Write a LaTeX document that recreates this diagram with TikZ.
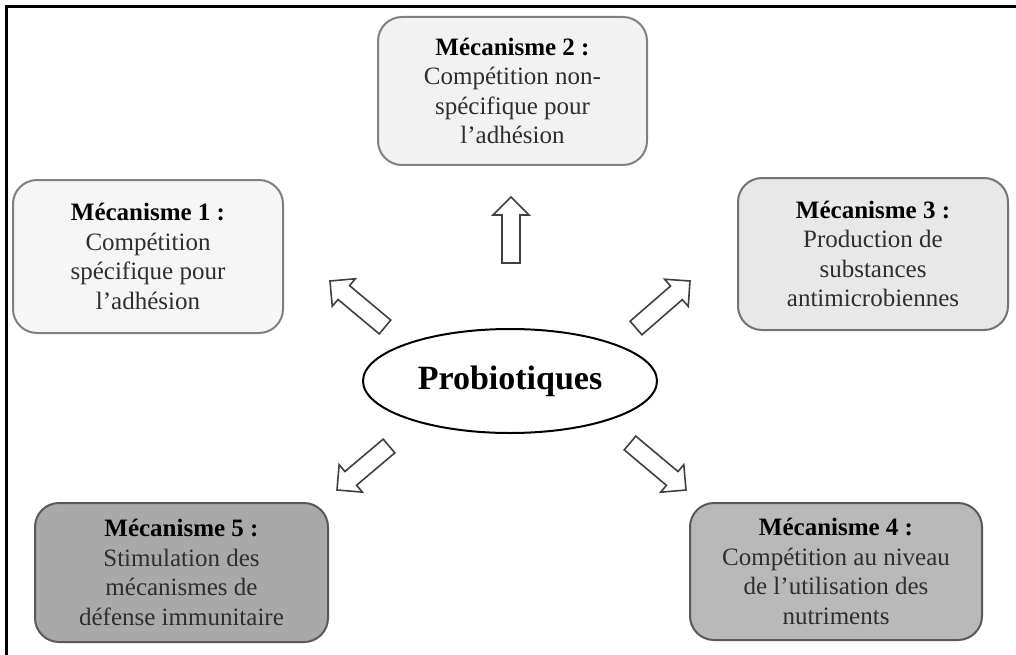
\documentclass[tikz,border=0pt]{standalone}
\usepackage{fontspec}
\setmainfont{Liberation Serif}
\usetikzlibrary{calc,shapes.geometric}

% Outlined block arrow from a tail coordinate to a tip coordinate
\newcommand{\blockarrow}[2]{%
  \path ($(#2)!18pt!(#1)$) coordinate (#2-base);
  \draw[arrowbody]
    ($(#1)!9pt!90:(#2)$) -- ($(#2-base)!9pt!90:(#2)$) --
    ($(#2-base)!18pt!90:(#2)$) -- (#2) --
    ($(#2-base)!18pt!-90:(#2)$) -- ($(#2-base)!9pt!-90:(#2)$) --
    ($(#1)!9pt!-90:(#2)$) -- cycle;
}

\definecolor{boxA}{HTML}{F6F6F6}
\definecolor{boxB}{HTML}{F2F2F2}
\definecolor{boxC}{HTML}{E8E8E8}
\definecolor{boxD}{HTML}{B9B9B9}
\definecolor{boxE}{HTML}{A9A9A9}
\definecolor{bodytext}{HTML}{2E2E2E}

\begin{document}
\begin{tikzpicture}[x=1pt,y=-1pt,
  mech/.style={draw=#1, line width=2pt, rounded corners=24pt, align=center,
    inner sep=0pt, font=\fontsize{25}{29.5}\selectfont, text=bodytext},
  hub/.style={draw=black, line width=2pt, ellipse, fill=white, inner sep=0pt,
    font=\fontsize{34}{38}\selectfont\bfseries},
  arrowbody/.style={draw=black!75, line width=1.6pt, fill=white, line join=miter},
  frame/.style={line width=3pt, draw=black}]

\useasboundingbox (0,0) rectangle (1016,655);

% outer frame (top and left sides)
\coordinate (fr-tl) at (6.5,6.5);
\coordinate (fr-tr) at (1016,6.5);
\coordinate (fr-bl) at (6.5,655);
\draw[frame] (fr-tr) -- (fr-tl) -- (fr-bl);

% mechanism boxes
\node[mech=black!50, fill=boxA, minimum width=270, minimum height=153] (m1) at (148,256.5)
  {\textcolor{black}{\textbf{Mécanisme 1 :}}\\Compétition\\spécifique pour\\l’adhésion};
\node[mech=black!50, fill=boxB, minimum width=269, minimum height=148] (m2) at (512.5,91)
  {\textcolor{black}{\textbf{Mécanisme 2 :}}\\Compétition non-\\spécifique pour\\l’adhésion};
\node[mech=black!55, fill=boxC, minimum width=270, minimum height=152] (m3) at (873,254)
  {\textcolor{black}{\textbf{Mécanisme 3 :}}\\Production de\\substances\\antimicrobiennes};
\node[mech=black!65, fill=boxD, minimum width=292, minimum height=137] (m4) at (836,571.5)
  {\textcolor{black}{\textbf{Mécanisme 4 :}}\\Compétition au niveau\\de l’utilisation des\\nutriments};
\node[mech=black!65, fill=boxE, minimum width=293, minimum height=139] (m5) at (181.5,572.5)
  {\textcolor{black}{\textbf{Mécanisme 5 :}}\\Stimulation des\\mécanismes de\\défense immunitaire};

% central ellipse
\node[hub, minimum width=294, minimum height=104] (pro) at (510,381) {Probiotiques};

% arrow end points
\coordinate (a2-tail) at (511,263);  \coordinate (a2-tip) at (511,197);
\coordinate (a1-tail) at (385,327);  \coordinate (a1-tip) at (330,281);
\coordinate (a3-tail) at (636,328);  \coordinate (a3-tip) at (690,281);
\coordinate (a5-tail) at (389,446);  \coordinate (a5-tip) at (337,490);
\coordinate (a4-tail) at (630,443);  \coordinate (a4-tip) at (686,490);

\blockarrow{a1-tail}{a1-tip}
\blockarrow{a2-tail}{a2-tip}
\blockarrow{a3-tail}{a3-tip}
\blockarrow{a4-tail}{a4-tip}
\blockarrow{a5-tail}{a5-tip}

\end{tikzpicture}
\end{document}
